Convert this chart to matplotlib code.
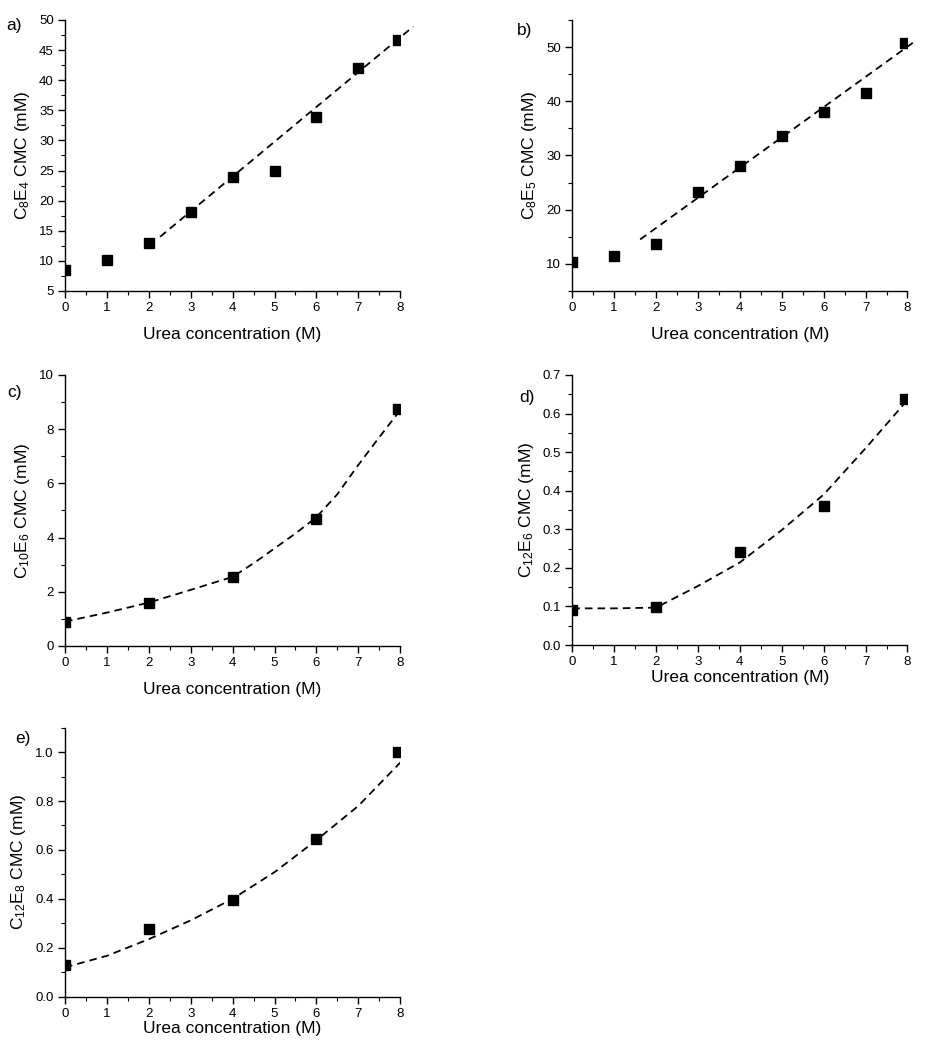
import matplotlib
matplotlib.use("Agg")
import matplotlib.pyplot as plt
from matplotlib.ticker import MultipleLocator, FormatStrFormatter

plt.rcParams['font.family'] = ['Liberation Sans', 'DejaVu Sans']
plt.rcParams['mathtext.fontset'] = 'custom'
plt.rcParams['mathtext.rm'] = 'Liberation Sans'
plt.rcParams['mathtext.it'] = 'Liberation Sans'

urea_a = [0, 1, 2, 3, 4, 5, 6, 7, 7.95]
cmc_a = [8.5, 10.1, 12.9, 18.1, 24.0, 25.0, 33.9, 42.1, 46.6]
fit_xa = [2.27, 8.31]
fit_ya = [14.0, 48.9]

urea_b = [0, 1, 2, 3, 4, 5, 6, 7, 7.95]
cmc_b = [10.3, 11.4, 13.7, 23.3, 28.0, 33.5, 38.0, 41.5, 50.7]
fit_xb = [1.62, 8.22]
fit_yb = [14.5, 51.3]

urea_c = [0, 2, 4, 6, 7.95]
cmc_c = [0.9, 1.6, 2.55, 4.7, 8.75]
fit_xc = [0, 1, 2, 3, 4, 4.5, 5, 5.5, 6, 6.5, 7, 7.5, 8]
fit_yc = [0.9, 1.23, 1.6, 2.07, 2.55, 3.05, 3.6, 4.15, 4.75, 5.6, 6.68, 7.7, 8.7]

urea_d = [0, 2, 4, 6, 7.95]
cmc_d = [0.09, 0.098, 0.24, 0.36, 0.638]
fit_xd = [0, 1, 2, 3, 4, 5, 6, 7, 8]
fit_yd = [0.095, 0.095, 0.097, 0.153, 0.214, 0.298, 0.39, 0.51, 0.635]

urea_e = [0, 2, 4, 6, 7.95]
cmc_e = [0.13, 0.275, 0.395, 0.645, 1.0]
fit_xe = [0, 1, 2, 3, 4, 5, 6, 7, 8]
fit_ye = [0.12, 0.167, 0.235, 0.312, 0.40, 0.509, 0.64, 0.78, 0.957]

fig = plt.figure(figsize=(9.26, 10.5), dpi=100)

# [left, bottom, width, height] in figure fractions
w = 0.362
ax_a = fig.add_axes([0.0702, 0.7229, w, 0.2581])
ax_b = fig.add_axes([0.618, 0.7229, w, 0.2581])
ax_c = fig.add_axes([0.0702, 0.3848, w, 0.2581])
ax_d = fig.add_axes([0.618, 0.3857, w, 0.2572])
ax_e = fig.add_axes([0.0702, 0.0508, w, 0.2562])

panels = [
    (ax_a, urea_a, cmc_a, fit_xa, fit_ya, (5, 50), 5, 2.5, r'C$_{8}$E$_{4}$ CMC (mM)', False, '%d'),
    (ax_b, urea_b, cmc_b, fit_xb, fit_yb, (5, 55), 10, 5, r'C$_{8}$E$_{5}$ CMC (mM)', False, '%d'),
    (ax_c, urea_c, cmc_c, fit_xc, fit_yc, (0, 10), 2, 1, r'C$_{10}$E$_{6}$ CMC (mM)', True, '%d'),
    (ax_d, urea_d, cmc_d, fit_xd, fit_yd, (0, 0.7), 0.1, 0.05, r'C$_{12}$E$_{6}$ CMC (mM)', True, '%.1f'),
    (ax_e, urea_e, cmc_e, fit_xe, fit_ye, (0, 1.1), 0.2, 0.1, r'C$_{12}$E$_{8}$ CMC (mM)', True, '%.1f'),
]

for ax, x, y, fx, fy, ylim, major, minor, ylab, clip_fit, fmt in panels:
    ax.plot(fx, fy, color='black', lw=1.3, linestyle=(0, (4.2, 2.8)), clip_on=clip_fit)
    ax.plot(x, y, 's', color='black', ms=7.2, clip_on=True)
    ax.set_xlim(0, 8)
    ax.set_ylim(*ylim)
    ax.xaxis.set_major_locator(MultipleLocator(1))
    ax.xaxis.set_minor_locator(MultipleLocator(0.5))
    ax.yaxis.set_major_locator(MultipleLocator(major))
    ax.yaxis.set_minor_locator(MultipleLocator(minor))
    ax.yaxis.set_major_formatter(FormatStrFormatter(fmt))
    ax.spines['top'].set_visible(False)
    ax.spines['right'].set_visible(False)
    for s in ('left', 'bottom'):
        ax.spines[s].set_linewidth(1.0)
    ax.tick_params(which='major', direction='out', length=5, width=1.0, labelsize=9.5, pad=3)
    ax.tick_params(which='minor', direction='out', length=3, width=0.8)
    ax.set_ylabel(ylab, fontsize=12.5, labelpad=5)
    ax.set_xlabel('Urea concentration (M)', fontsize=12.5, labelpad=9)

ax_d.set_xlabel('Urea concentration (M)', fontsize=12.5, labelpad=1)
ax_e.set_xlabel('Urea concentration (M)', fontsize=12.5, labelpad=1)

# panel letters
fig.text(0.007, 0.976, 'a)', fontsize=12.5, va='center')
fig.text(0.558, 0.971, 'b)', fontsize=12.5, va='center')
fig.text(0.008, 0.626, 'c)', fontsize=12.5, va='center')
fig.text(0.561, 0.621, 'd)', fontsize=12.5, va='center')
fig.text(0.017, 0.297, 'e)', fontsize=12.5, va='center')

fig.savefig('out.png', dpi=100)
